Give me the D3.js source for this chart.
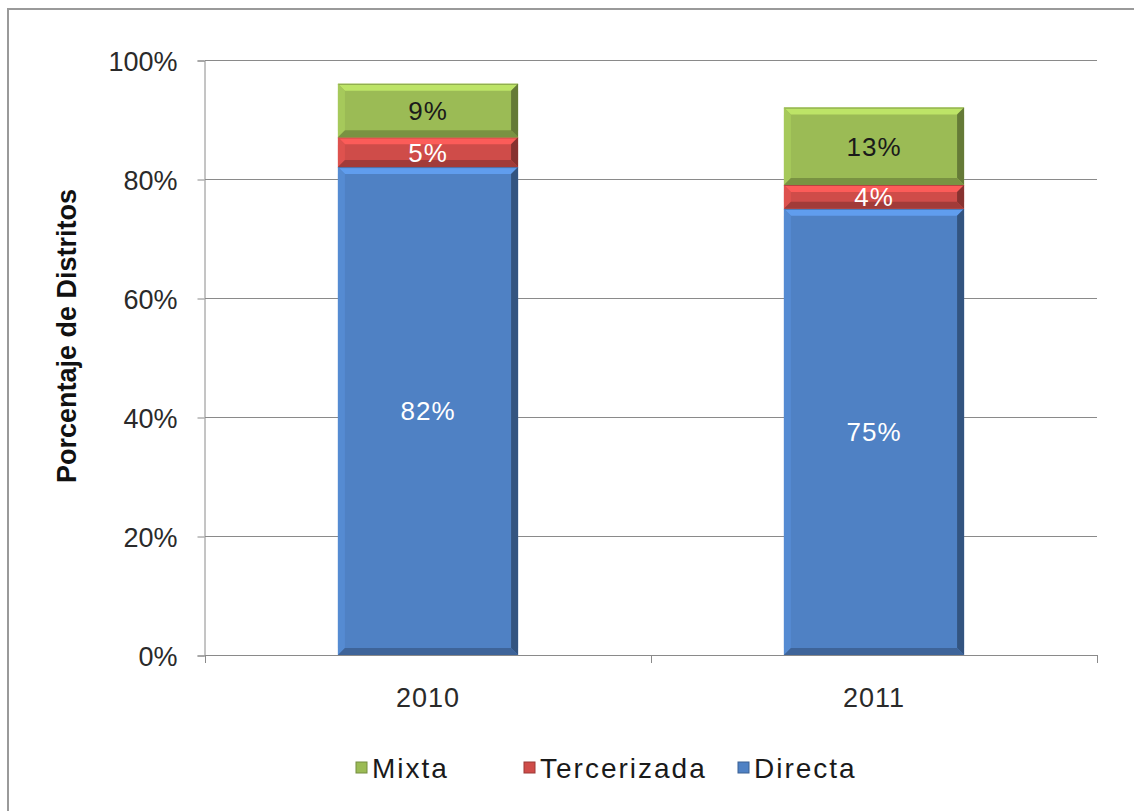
<!DOCTYPE html>
<html>
<head>
<meta charset="utf-8">
<script src="https://cdn.jsdelivr.net/npm/d3@7"></script>
<style>
	body { margin: 0; background: #fff; }
	text { font-family: "Liberation Sans", Arial, sans-serif; }
</style>
</head>
<body>
<div class="container"></div>
<script>
var years = ["2010", "2011"];
var seriesNames = ["Directa", "Tercerizada", "Mixta"];
var directa = [82, 75];
var tercerizada = [5, 4];
var mixta = [9, 13];
var yTicks = [0, 20, 40, 60, 80, 100];
var legendOrder = ["Mixta", "Tercerizada", "Directa"];

(function() {
	var width = 1134, height = 811;
	var colors = {Directa: "#4f81c4", Tercerizada: "#cf4c49", Mixta: "#9bbb55"};
	var labelColors = {Directa: "#ffffff", Tercerizada: "#ffffff", Mixta: "#1a1a1a"};
	var values = {Directa: directa, Tercerizada: tercerizada, Mixta: mixta};

	var svg = d3.select(".container").append("svg")
		.attr("width", width)
		.attr("height", height);

	// outer chart border (cut at right/bottom like the screenshot)
	svg.append("rect")
		.attr("x", 8).attr("y", 9)
		.attr("width", width + 10).attr("height", height + 10)
		.style("fill", "#fff")
		.style("stroke", "#9a9a9a")
		.style("stroke-width", 2);

	var x = d3.scaleBand().domain(years).range([205, 1097]).padding(0);
	var y = d3.scaleLinear().domain([0, 100]).range([655, 60]);
	var barW = x.bandwidth() * 0.404;

	// gridlines
	svg.append("g").selectAll("line")
		.data(yTicks.filter(function(d) { return d > 0; }))
		.enter().append("line")
		.attr("x1", 205).attr("x2", 1097)
		.attr("y1", function(d) { return Math.round(y(d)) + 0.5; })
		.attr("y2", function(d) { return Math.round(y(d)) + 0.5; })
		.style("stroke", "#8a8a8a");

	// y axis
	var yAxis = d3.axisLeft(y).tickValues(yTicks)
		.tickFormat(function(d) { return d + "%"; })
		.tickSize(7).tickPadding(20);
	var gy = svg.append("g").attr("transform", "translate(204.5,0.5)").call(yAxis);
	gy.select(".domain").style("stroke", "#8a8a8a");
	gy.selectAll(".tick line").style("stroke", "#8a8a8a");
	gy.selectAll(".tick text")
		.style("font-size", "27px").style("fill", "#2a2a2a")
		.style("font-family", "'Liberation Sans', Arial, sans-serif")
		.attr("dy", "0.36em");

	// x axis
	var xAxis = d3.axisBottom(x).tickSize(0).tickPadding(32);
	var gx = svg.append("g").attr("transform", "translate(0,655.5)").call(xAxis);
	gx.select(".domain").style("stroke", "#8a8a8a").attr("d", "M205,0H1097");
	gx.selectAll(".tick text")
		.style("font-size", "27px").style("fill", "#2a2a2a")
		.style("font-family", "'Liberation Sans', Arial, sans-serif")
		.attr("letter-spacing", "1px");
	// category boundary ticks
	svg.append("g").selectAll("line")
		.data([x(years[0]), x(years[1]), x(years[1]) + x.bandwidth()])
		.enter().append("line")
		.attr("x1", function(d) { return Math.round(d) + 0.5; })
		.attr("x2", function(d) { return Math.round(d) + 0.5; })
		.attr("y1", 655).attr("y2", 663)
		.style("stroke", "#8a8a8a");

	// y title
	svg.append("text")
		.attr("transform", "translate(76,336) rotate(-90)")
		.attr("text-anchor", "middle")
		.style("font-size", "27px").style("font-weight", "bold")
		.style("fill", "#111")
		.text("Porcentaje de Distritos");

	// stack
	var rows = years.map(function(yr, i) {
		var r = {year: yr};
		seriesNames.forEach(function(s) { r[s] = values[s][i]; });
		return r;
	});
	var stack = d3.stack().keys(seriesNames)(rows);

	function bevel(g, x0, x1, y0, y1, c) {
		var b = 7;
		var base = d3.color(c);
		g.append("rect").attr("x", x0).attr("y", y0)
			.attr("width", x1 - x0).attr("height", y1 - y0)
			.style("fill", c);
		g.append("polygon")
			.attr("points", [[x0, y0], [x1, y0], [x1 - b, y0 + b], [x0 + b, y0 + b]].join(" "))
			.style("fill", base.brighter(0.55));
		g.append("line")
			.attr("x1", x0).attr("x2", x1).attr("y1", y0 + 0.5).attr("y2", y0 + 0.5)
			.style("stroke", base.darker(0.4));
		g.append("polygon")
			.attr("points", [[x0, y0], [x0 + b, y0 + b], [x0 + b, y1 - b], [x0, y1]].join(" "))
			.style("fill", base.brighter(0.2));
		g.append("polygon")
			.attr("points", [[x1, y0], [x1, y1], [x1 - b, y1 - b], [x1 - b, y0 + b]].join(" "))
			.style("fill", base.darker(1.2));
		g.append("polygon")
			.attr("points", [[x0, y1], [x1, y1], [x1 - b, y1 - b], [x0 + b, y1 - b]].join(" "))
			.style("fill", base.darker(0.7));
	}

	var bars = svg.append("g");
	stack.forEach(function(layer) {
		layer.forEach(function(d) {
			var cx = x(d.data.year) + x.bandwidth() / 2;
			var x0 = cx - barW / 2, x1 = cx + barW / 2;
			var g = bars.append("g");
			bevel(g, x0, x1, y(d[1]), y(d[0]), colors[layer.key]);
		});
	});
	// labels
	stack.forEach(function(layer) {
		bars.selectAll(null).data(layer).enter().append("text")
			.attr("x", function(d) { return x(d.data.year) + x.bandwidth() / 2; })
			.attr("y", function(d) { return (y(d[0]) + y(d[1])) / 2; })
			.attr("dy", "0.36em")
			.attr("text-anchor", "middle")
			.attr("letter-spacing", "1px")
			.style("font-size", "26px")
			.style("fill", labelColors[layer.key])
			.text(function(d) { return (d[1] - d[0]) + "%"; });
	});

	// legend
	var legendX = [356, 524, 738];
	var legend = svg.append("g").selectAll("g")
		.data(legendOrder)
		.enter().append("g")
		.attr("transform", function(d, i) { return "translate(" + legendX[i] + ",768)"; });
	legend.append("rect")
		.attr("x", 0).attr("y", -6).attr("width", 11).attr("height", 11)
		.style("fill", function(d) { return colors[d]; })
		.style("stroke", function(d) { return d3.color(colors[d]).darker(0.8); });
	legend.append("text")
		.attr("x", 16).attr("dy", "0.36em")
		.style("font-size", "28px").style("fill", "#1a1a1a")
		.attr("letter-spacing", "2px")
		.text(function(d) { return d; });
})();
</script>
</body>
</html>
